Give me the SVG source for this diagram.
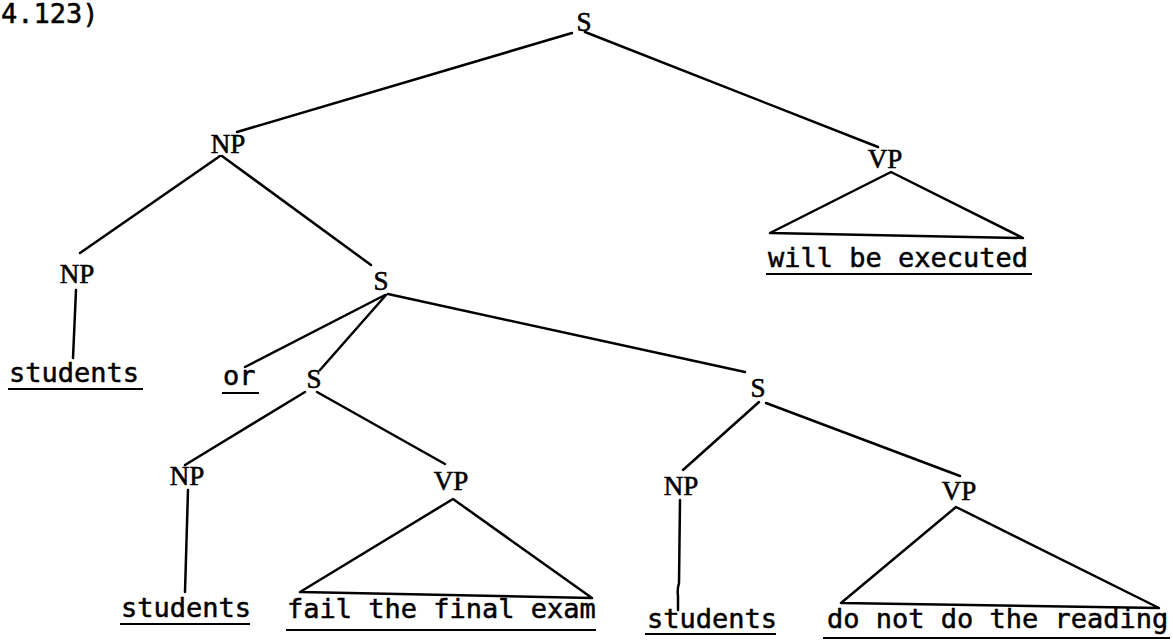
<svg xmlns="http://www.w3.org/2000/svg" width="1173" height="642" viewBox="0 0 1173 642">
<style>
.lbl{font-family:"Liberation Serif","Times New Roman",serif;font-size:27px;fill:#000;stroke:#000;stroke-width:0.6;text-anchor:middle}
.leaf{font-family:"DejaVu Sans Mono","Liberation Mono",monospace;font-size:27px;fill:#000;stroke:#000;stroke-width:0.5}
.ul{stroke:#000;stroke-width:2;fill:none}
.edge{stroke:#000;stroke-width:2.5;fill:none;stroke-linecap:round;stroke-linejoin:round}
</style>
<rect width="1173" height="642" fill="#fff"/>
<g id="caption"><text class="leaf" x="1" y="23">4.123)</text></g>
<g id="connectors">
<line class="edge" x1="572" y1="33" x2="237" y2="132"/>
<line class="edge" x1="585" y1="32" x2="878" y2="147"/>
<line class="edge" x1="220" y1="156" x2="80" y2="253"/>
<line class="edge" x1="222" y1="156" x2="371" y2="265"/>
<polygon class="edge" points="891,172 770,233 1023,238"/>
<line class="edge" x1="76" y1="290" x2="73" y2="358"/>
<line class="edge" x1="385" y1="295" x2="245" y2="367"/>
<line class="edge" x1="386" y1="295" x2="320" y2="370"/>
<line class="edge" x1="388" y1="294" x2="745" y2="372"/>
<line class="edge" x1="305" y1="392" x2="185" y2="465"/>
<line class="edge" x1="317" y1="392" x2="445" y2="464"/>
<line class="edge" x1="188" y1="490" x2="185" y2="592"/>
<polygon class="edge" points="453,499 300,592 592,598"/>
<line class="edge" x1="759" y1="402" x2="683" y2="470"/>
<line class="edge" x1="766" y1="403" x2="960" y2="476"/>
<path class="edge" d="M680,500 L679,583 Q677,590 678,596 L678,610"/>
<polygon class="edge" points="956,507 841,603 1159,608"/>
</g>
<g id="S_root"><text class="lbl" x="584" y="31">S</text></g>
<g id="NP_subj"><text class="lbl" x="228" y="153">NP</text></g>
<g id="VP_main"><text class="lbl" x="885" y="168">VP</text></g>
<g id="VP_main_leaf"><text class="leaf" x="768" y="267">will be executed</text><line class="ul" x1="766" y1="274" x2="1032" y2="274"/></g>
<g id="NP_head"><text class="lbl" x="77" y="283">NP</text></g>
<g id="NP_head_leaf"><text class="leaf" x="9" y="382">students</text><line class="ul" x1="8" y1="389" x2="143" y2="389"/></g>
<g id="S_rel"><text class="lbl" x="381" y="290">S</text></g>
<g id="or"><text class="leaf" x="223" y="385">or</text><line class="ul" x1="222" y1="393" x2="259" y2="393"/></g>
<g id="S_left"><text class="lbl" x="314" y="388">S</text></g>
<g id="S_right"><text class="lbl" x="758" y="397">S</text></g>
<g id="NP_left"><text class="lbl" x="187" y="485">NP</text></g>
<g id="NP_left_leaf"><text class="leaf" x="121" y="617">students</text><line class="ul" x1="120" y1="624" x2="250" y2="624"/></g>
<g id="VP_left"><text class="lbl" x="451" y="490">VP</text></g>
<g id="VP_left_leaf"><text class="leaf" x="287" y="618">fail the final exam</text><line class="ul" x1="286" y1="630" x2="596" y2="630"/></g>
<g id="NP_right"><text class="lbl" x="681" y="495">NP</text></g>
<g id="NP_right_leaf"><text class="leaf" x="647" y="628">students</text><line class="ul" x1="645" y1="634" x2="776" y2="634"/></g>
<g id="VP_right"><text class="lbl" x="959" y="500">VP</text></g>
<g id="VP_right_leaf"><text class="leaf" x="827" y="628">do not do the reading</text><line class="ul" x1="823" y1="638" x2="1170" y2="638"/></g>
</svg>
